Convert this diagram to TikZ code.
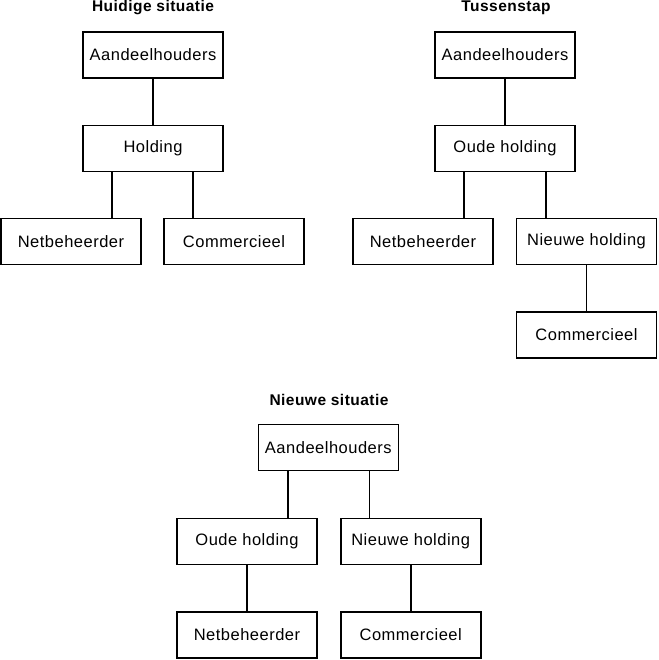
\documentclass[tikz,border=0pt]{standalone}
\usepackage{fontspec}
\setmainfont{Liberation Sans}
\begin{document}
\begin{tikzpicture}[x=1pt,y=-1pt,
  box/.style={draw=black, line width=1.6pt, minimum width=140pt, minimum height=46pt, inner sep=0pt, font=\addfontfeatures{LetterSpace=3}\fontsize{16.5}{18}\selectfont},
  ttl/.style={inner sep=0pt, font=\bfseries\addfontfeatures{LetterSpace=3}\fontsize{15.5}{17}\selectfont},
  link/.style={draw=black, line width=1.6pt}]
\useasboundingbox (0,0) rectangle (658,660);
% Panel 1
\node[ttl] (t1) at (153,7.5) {Huidige situatie};
\node[box] (a1) at (153,55) {Aandeelhouders};
\node[box] (h1) at (153,148.5) {Holding};
\node[box] (n1) at (71,241.5) {Netbeheerder};
\node[box] (c1) at (234,241.5) {Commercieel};
\draw[link] (a1) -- (h1);
\draw[link] ([xshift=-41pt]h1.south) -- ([xshift=-41pt]h1.south |- n1.north);
\draw[link] ([xshift=40pt]h1.south) -- ([xshift=40pt]h1.south |- c1.north);
% Panel 2
\node[ttl] (t2) at (506,7.5) {Tussenstap};
\node[box] (a2) at (505,55) {Aandeelhouders};
\node[box] (o2) at (505,148.5) {Oude holding};
\node[box] (n2) at (423,241.5) {Netbeheerder};
\node[box] (nh2) at (586.5,241.5) {Nieuwe holding};
\node[box] (c2) at (586.5,335) {Commercieel};
\draw[link] (a2) -- (o2);
\draw[link] ([xshift=-41pt]o2.south) -- ([xshift=-41pt]o2.south |- n2.north);
\draw[link] ([xshift=41pt]o2.south) -- ([xshift=41pt]o2.south |- nh2.north);
\draw[link] (nh2) -- (c2);
% Panel 3
\node[ttl] (t3) at (329,400) {Nieuwe situatie};
\node[box] (a3) at (328.3,447.5) {Aandeelhouders};
\node[box] (o3) at (247,541.5) {Oude holding};
\node[box] (nh3) at (410.7,541.5) {Nieuwe holding};
\node[box] (n3) at (247,635) {Netbeheerder};
\node[box] (c3) at (410.7,635) {Commercieel};
\draw[link] ([xshift=-40.6pt]a3.south) -- ([xshift=-40.6pt]a3.south |- o3.north);
\draw[link] ([xshift=41pt]a3.south) -- ([xshift=41pt]a3.south |- nh3.north);
\draw[link] (o3) -- (n3);
\draw[link] (nh3) -- (c3);
\end{tikzpicture}
\end{document}
